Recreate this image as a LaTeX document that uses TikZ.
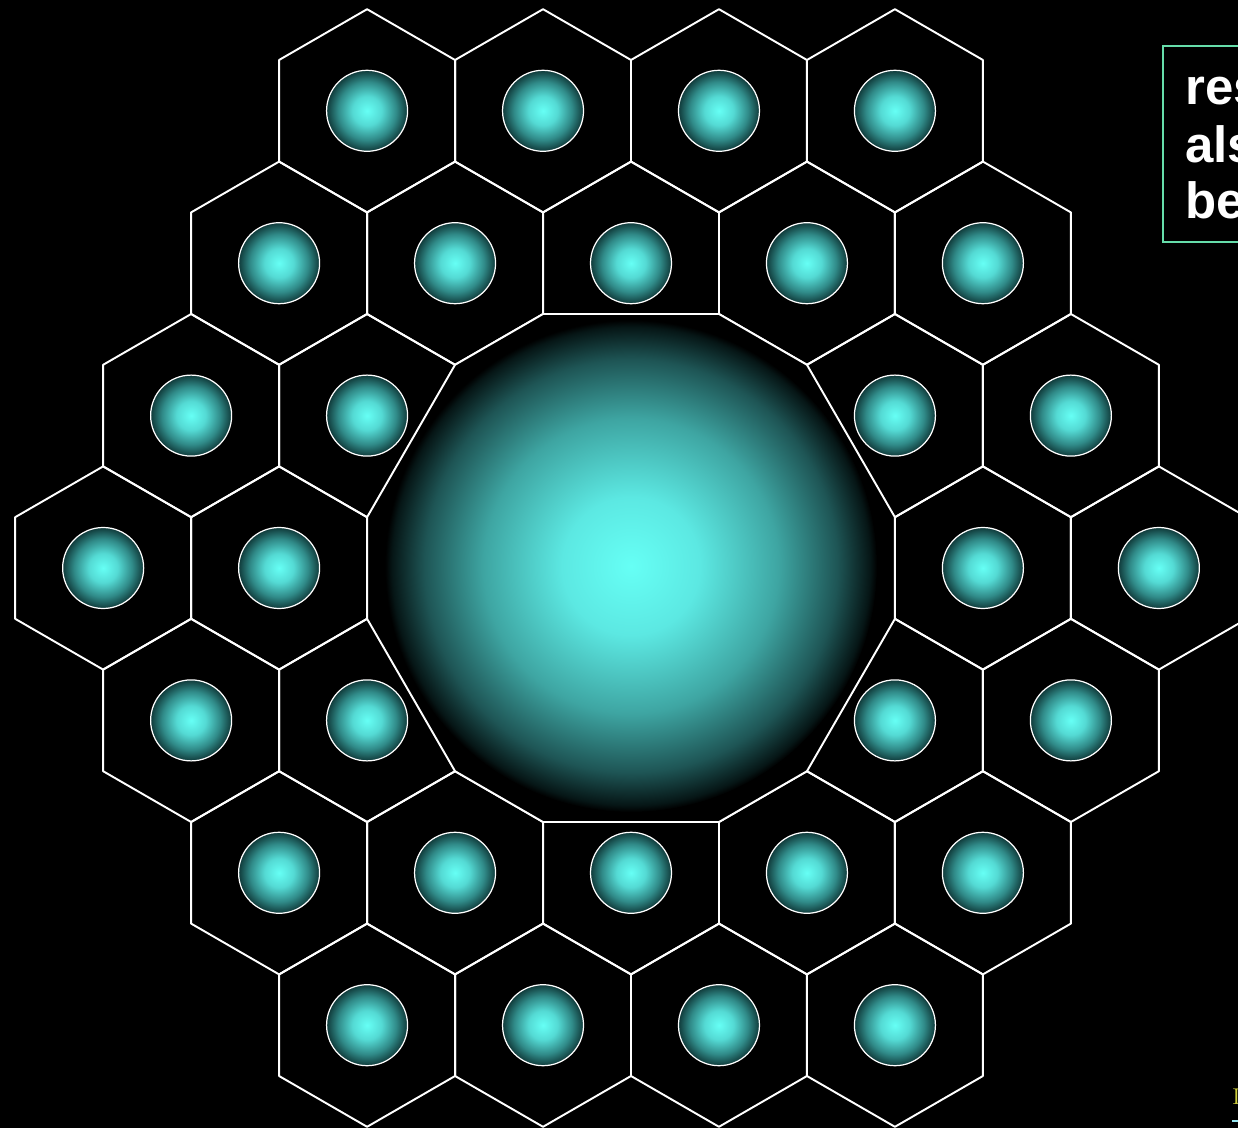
\documentclass[tikz,border=0pt]{standalone}
\usepackage{fontspec}
\setsansfont{Liberation Sans}
\definecolor{cyc}{RGB}{102,255,245}
\definecolor{sbA}{RGB}{84,218,212}
\definecolor{sbB}{RGB}{48,138,136}
\definecolor{sbC}{RGB}{16,58,58}
\definecolor{bbA}{RGB}{92,232,226}
\definecolor{bbB}{RGB}{62,165,162}
\definecolor{bbC}{RGB}{30,85,85}
\definecolor{bbD}{RGB}{6,22,22}
\definecolor{boxgreen}{RGB}{102,221,170}
\definecolor{linkyellow}{RGB}{205,205,60}
\definecolor{linkcyan}{RGB}{150,230,240}
\pgfdeclareradialshading{smallball}{\pgfpoint{0bp}{0bp}}{color(0bp)=(cyc); color(9bp)=(sbA); color(18bp)=(sbB); color(25bp)=(sbC); color(50bp)=(sbC)}
\pgfdeclareradialshading{bigball}{\pgfpoint{0bp}{0bp}}{color(0bp)=(cyc); color(7bp)=(bbA); color(15bp)=(bbB); color(21bp)=(bbC); color(24.3bp)=(bbD); color(25bp)=(black); color(50bp)=(black)}
\newcommand\hexpt[2]{({631+#1*\S},{568+#2*\R})}
\begin{document}
\begin{tikzpicture}[x=0.02cm,y=-0.02cm,
  hexline/.style={draw=white,line width=1.1pt,line join=round},
  ballrim/.style={draw=white,line width=0.7pt},
  boxtext/.style={anchor=base west,inner sep=0pt,text=white,font=\fontsize{29}{32}\selectfont\sffamily\bfseries}]
\fill[black] (0,0) rectangle (1238,1128);
\useasboundingbox (0,0) rectangle (1238,1128);
\def\S{175.95}
\def\R{101.6}
\foreach \rr in {-3,...,3}{
  \foreach \qq in {-3,...,3}{
    \pgfmathtruncatemacro{\d}{max(abs(\qq),abs(\rr),abs(\qq+\rr))}
    \ifnum\d>1\relax\ifnum\d<4\relax
      \pgfmathsetmacro{\cx}{631+\S*(\qq+\rr/2)}
      \pgfmathsetmacro{\cy}{568+1.5*\R*\rr}
      \draw[hexline] (\cx,\cy) +(30:\R) -- +(90:\R) -- +(150:\R) -- +(210:\R) -- +(270:\R) -- +(330:\R) -- cycle;
      \shadedraw[shading=smallball,ballrim] (\cx,\cy) circle[radius=40.5];
    \fi\fi
  }
}
% central cell
\filldraw[fill=black,hexline] \hexpt{-0.5}{-2.5} -- \hexpt{0.5}{-2.5} -- \hexpt{1}{-2} -- \hexpt{1.5}{-0.5}
  -- \hexpt{1.5}{0.5} -- \hexpt{1}{2} -- \hexpt{0.5}{2.5} -- \hexpt{-0.5}{2.5} -- \hexpt{-1}{2}
  -- \hexpt{-1.5}{0.5} -- \hexpt{-1.5}{-0.5} -- \hexpt{-1}{-2} -- cycle;
\shade[shading=bigball] (631,566) circle[radius=246];
% text box
\draw[boxgreen,line width=1.2pt] (1163,46) rectangle (1320,242);
\node[boxtext] (t1) at (1185,105) {res};
\node[boxtext] (t2) at (1185,163) {als};
\node[boxtext] (t3) at (1185,219) {be};
% cut-off link
\node[anchor=base west,inner sep=0pt,text=linkyellow,font=\fontsize{13}{15}\selectfont] (lk) at (1232,1104) {I};
\draw[linkcyan,line width=1.2pt] (1232,1121) -- (1245,1121);
\end{tikzpicture}
\end{document}
